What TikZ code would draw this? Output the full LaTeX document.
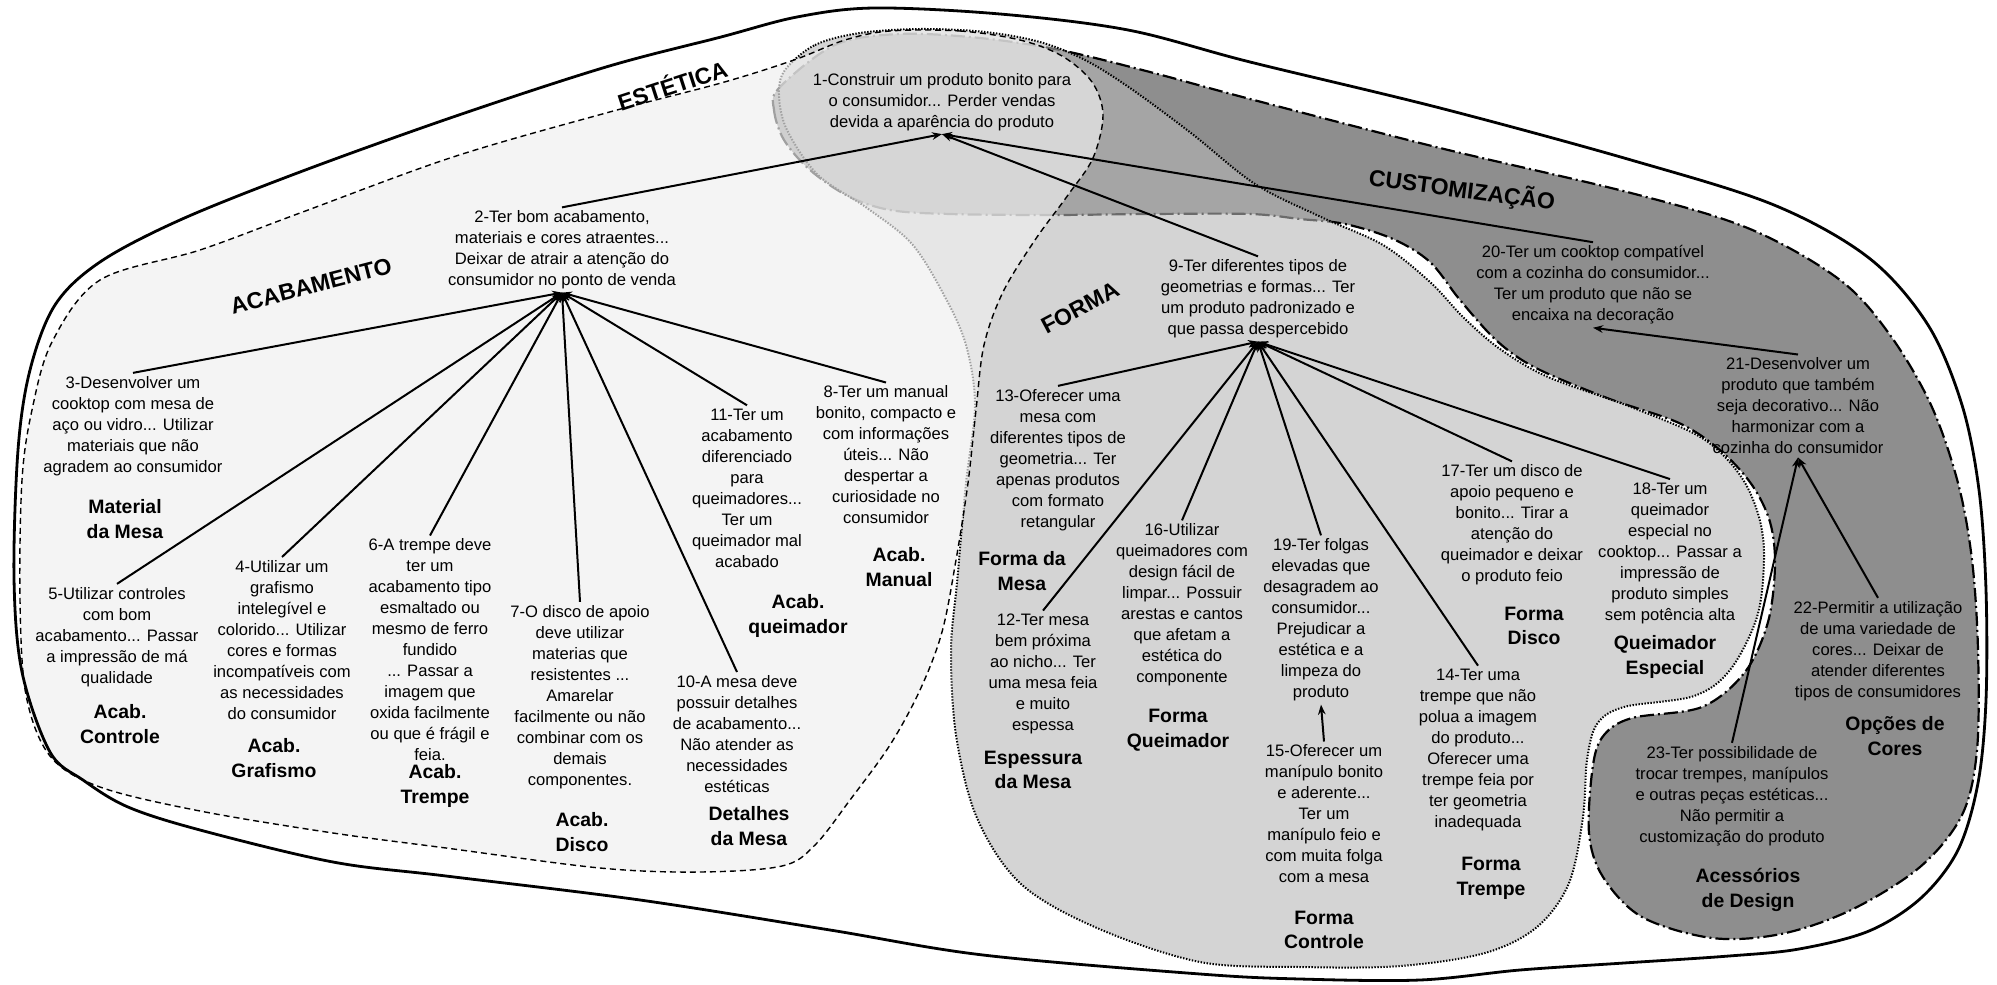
\documentclass[tikz,border=0pt]{standalone}
\usepackage{fontspec}
\setmainfont{Liberation Sans}
\usetikzlibrary{arrows.meta}

\definecolor{custfill}{gray}{0.557}
\definecolor{formfill}{gray}{0.714}
\definecolor{acabfill}{gray}{0.936}

\tikzset{
  txt/.style={align=center, font=\fontsize{8.3}{10.5}\selectfont, inner sep=1.5pt},
  lbl/.style={align=center, font=\fontsize{9.7}{12.4}\selectfont\bfseries, inner sep=1pt},
  ttl/.style={font=\fontsize{11.5}{13}\selectfont\bfseries, inner sep=0pt},
  edgeln/.style={line width=1pt, -{Stealth[length=5pt,width=3.8pt]}},
  outerln/.style={line width=1.4pt},
  acabln/.style={line width=0.7pt, dash pattern=on 3pt off 2pt},
  formaln/.style={line width=1pt, dash pattern=on 0.7pt off 0.8pt},
  custln/.style={line width=1.1pt, dash pattern=on 7pt off 2pt on 1pt off 2pt},
}

\begin{document}
\begin{tikzpicture}[x=0.5pt,y=-0.5pt]
\useasboundingbox (0,0) rectangle (1997,985);

% Customização region (bottom layer)
\filldraw[fill=custfill, custln] plot[smooth cycle, tension=0.55] coordinates {
 (779,88) (774,110) (784,140) (810,170) (848,196) (890,210) (950,214) (1050,215)
 (1150,214) (1250,214) (1300,219) (1345,224) (1393,239) (1430,262) (1460,300)
 (1497,341) (1536,368) (1607,398) (1679,423) (1721,451) (1752,485) (1770,522)
 (1775,565) (1768,622) (1745,672) (1702,707) (1632,718) (1604,735) (1593,765)
 (1589,833) (1603,877) (1642,917) (1712,938) (1781,934) (1851,910) (1920,867)
 (1962,815) (1977,750) (1978,650) (1972,560) (1958,483) (1931,405) (1890,335)
 (1840,280) (1750,229) (1631,193) (1440,148) (1250,99) (1150,72) (1060,50)
 (980,38) (900,34) (835,45)};

% Forma region
\filldraw[fill=formfill, fill opacity=0.59, formaln] plot[smooth cycle, tension=0.55] coordinates {
 (785,70) (815,45) (860,33) (920,29) (985,32) (1040,42) (1085,60) (1130,88)
 (1191,133) (1255,184) (1321,217) (1383,245) (1430,282) (1464,318) (1500,349)
 (1548,377) (1631,407) (1702,438) (1740,475) (1759,517) (1764,560) (1757,617)
 (1730,670) (1694,696) (1624,707) (1597,724) (1587,760) (1583,817) (1569,883)
 (1537,927) (1485,953) (1400,966) (1300,967) (1200,962) (1097,928) (1021,884)
 (977,818) (956,735) (951,650) (957,583) (966,483) (975,405) (966,345)
 (945,297) (912,244) (867,208) (818,175) (787,130) (779,95)};

% Acabamento region (top layer)
\filldraw[fill=acabfill, fill opacity=0.67, acabln] plot[smooth cycle, tension=0.55] coordinates {
 (890,31) (960,31) (1020,40) (1062,56) (1092,82) (1103,115) (1093,158) (1068,195)
 (1035,240) (1003,292) (984,345) (976,410) (968,483) (956,560) (942,632)
 (920,690) (890,745) (850,800) (815,845) (782,866) (700,872) (600,868)
 (446,848) (333,833) (200,811) (100,787) (50,756) (26,695) (20,600) (22,480)
 (32,410) (52,342) (100,280) (200,250) (300,213) (453,157) (606,113) (721,83)
 (794,60) (845,40)};

% Estética outline
\draw[outerln] plot[smooth cycle, tension=0.55] coordinates {
 (874,8) (1000,14) (1128,30) (1250,62) (1440,108) (1631,160) (1774,205)
 (1869,258) (1928,325) (1962,405) (1979,490) (1986,590) (1986,700) (1978,783)
 (1958,850) (1921,898) (1869,931) (1799,949) (1729,956) (1624,963) (1520,970)
 (1420,980) (1300,979) (1200,974) (983,955) (830,930) (640,900) (446,876)
 (333,862) (200,830) (128,807) (83,780) (50,752) (22,672) (14,578) (18,450)
 (30,370) (55,305) (100,262) (180,220) (300,172) (453,117) (606,67) (721,37)
 (797,17)};

% Region titles
\node[ttl, rotate=18] (tEst) at (672,84) {ESTÉTICA};
\node[ttl, rotate=14.5] (tAcab) at (311,286) {ACABAMENTO};
\node[ttl, rotate=28] (tForma) at (1080,308) {FORMA};
\node[ttl, rotate=-7.5] (tCust) at (1462,190) {CUSTOMIZAÇÃO};

% Statements
\node[txt] (n1) at (942,102) {1-Construir um produto bonito para\\o consumidor... Perder vendas\\devida a aparência do produto};
\node[txt] (n2) at (562,250) {2-Ter bom acabamento,\\materiais e cores atraentes...\\Deixar de atrair a atenção do\\consumidor no ponto de venda};
\node[txt] (n3) at (133,426) {3-Desenvolver um\\cooktop com mesa de\\aço ou vidro... Utilizar\\materiais que não\\agradem ao consumidor};
\node[txt] (n4) at (282,640) {4-Utilizar um\\grafismo\\intelegível e\\colorido... Utilizar\\cores e formas\\incompatíveis com\\as necessidades\\do consumidor};
\node[txt] (n5) at (117,637) {5-Utilizar controles\\com bom\\acabamento... Passar\\a impressão de má\\qualidade};
\node[txt] (n6) at (430,650) {6-A trempe deve\\ter um\\acabamento tipo\\esmaltado ou\\mesmo de ferro\\fundido\\... Passar a\\imagem que\\oxida facilmente\\ou que é frágil e\\feia.};
\node[txt] (n7) at (580,697) {7-O disco de apoio\\deve utilizar\\materias que\\resistentes ...\\Amarelar\\facilmente ou não\\combinar com os\\demais\\componentes.};
\node[txt] (n8) at (886,455) {8-Ter um manual\\bonito, compacto e\\com informações\\úteis... Não\\despertar a\\curiosidade no\\consumidor};
\node[txt] (n9) at (1258,299) {9-Ter diferentes tipos de\\geometrias e formas... Ter\\um produto padronizado e\\que passa despercebido};
\node[txt] (n10) at (737,734) {10-A mesa deve\\possuir detalhes\\de acabamento...\\Não atender as\\necessidades\\estéticas};
\node[txt] (n11) at (747,488) {11-Ter um\\acabamento\\diferenciado\\para\\queimadores...\\Ter um\\queimador mal\\acabado};
\node[txt] (n12) at (1043,674) {12-Ter mesa\\bem próxima\\ao nicho... Ter\\uma mesa feia\\e muito\\espessa};
\node[txt] (n13) at (1058,460) {13-Oferecer uma\\mesa com\\diferentes tipos de\\geometria... Ter\\apenas produtos\\com formato\\retangular};
\node[txt] (n14) at (1478,750) {14-Ter uma\\trempe que não\\polua a imagem\\do produto...\\Oferecer uma\\trempe feia por\\ter geometria\\inadequada};
\node[txt] (n15) at (1324,814) {15-Oferecer um\\manípulo bonito\\e aderente...\\Ter um\\manípulo feio e\\com muita folga\\com a mesa};
\node[txt] (n16) at (1182,605) {16-Utilizar\\queimadores com\\design fácil de\\limpar... Possuir\\arestas e cantos\\que afetam a\\estética do\\componente};
\node[txt] (n17) at (1512,525) {17-Ter um disco de\\apoio pequeno e\\bonito... Tirar a\\atenção do\\queimador e deixar\\o produto feio};
\node[txt] (n18) at (1670,553) {18-Ter um\\queimador\\especial no\\cooktop... Passar a\\impressão de\\produto simples\\sem potência alta};
\node[txt] (n19) at (1321,620) {19-Ter folgas\\elevadas que\\desagradem ao\\consumidor...\\Prejudicar a\\estética e a\\limpeza do\\produto};
\node[txt] (n20) at (1593,285) {20-Ter um cooktop compatível\\com a cozinha do consumidor...\\Ter um produto que não se\\encaixa na decoração};
\node[txt] (n21) at (1798,406) {21-Desenvolver um\\produto que também\\seja decorativo... Não\\harmonizar com a\\cozinha do consumidor};
\node[txt] (n22) at (1878,651) {22-Permitir a utilização\\de uma variedade de\\cores... Deixar de\\atender diferentes\\tipos de consumidores};
\node[txt] (n23) at (1732,796) {23-Ter possibilidade de\\trocar trempes, manípulos\\e outras peças estéticas...\\Não permitir a\\customização do produto};

% Category labels
\node[lbl] (l3) at (125,519) {Material\\da Mesa};
\node[lbl] (l5) at (120,724) {Acab.\\Controle};
\node[lbl] (l4) at (274,758) {Acab.\\Grafismo};
\node[lbl] (l6) at (435,786) {Acab.\\Trempe};
\node[lbl] (l7) at (582,832) {Acab.\\Disco};
\node[lbl] (l10) at (749,826) {Detalhes\\da Mesa};
\node[lbl] (l11) at (798,616) {Acab.\\queimador};
\node[lbl] (l8) at (899,567) {Acab.\\Manual};
\node[lbl] (l13) at (1022,571) {Forma da\\Mesa};
\node[lbl] (l12) at (1033,770) {Espessura\\da Mesa};
\node[lbl] (l16) at (1178,730) {Forma\\Queimador};
\node[lbl] (l15) at (1324,930) {Forma\\Controle};
\node[lbl] (l14) at (1491,878) {Forma\\Trempe};
\node[lbl] (l17) at (1534,626) {Forma\\Disco};
\node[lbl] (l18) at (1665,657) {Queimador\\Especial};
\node[lbl] (l22) at (1895,736) {Opções de\\Cores};
\node[lbl] (l23) at (1748,890) {Acessórios\\de Design};

% Links towards the central statement
\draw[edgeln] (n2.north) -- (n1.south);
\draw[edgeln] (n9.north) -- (n1.south);
\draw[edgeln] (n20.north) -- (n1.south);

% Acabamento links
\foreach \c in {n3,n4,n5,n6,n7,n8,n10,n11}
  \draw[edgeln] (\c.north) -- (n2.south);

% Forma links
\foreach \c in {n12,n13,n14,n16,n17,n18,n19}
  \draw[edgeln] (\c.north) -- (n9.south);
\draw[edgeln] (n15.north) -- (n19.south);

% Customização links
\draw[edgeln] (n21.north) -- (n20.south);
\draw[edgeln] (n22.north) -- (n21.south);
\draw[edgeln] (n23.north) -- (n21.south);

\end{tikzpicture}
\end{document}
